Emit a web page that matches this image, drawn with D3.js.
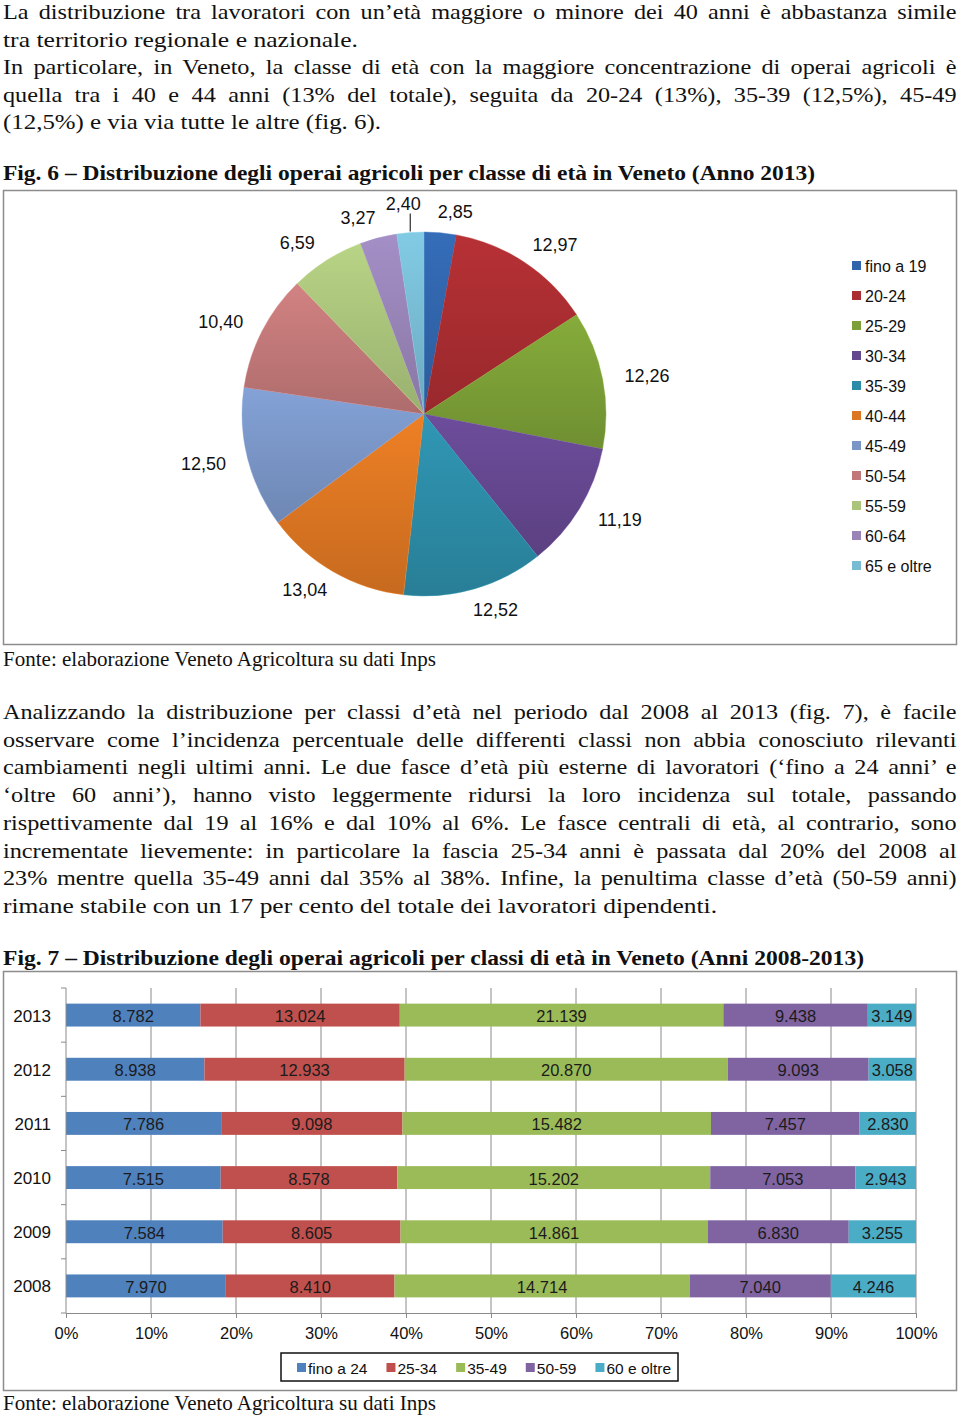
<!DOCTYPE html>
<html><head><meta charset="utf-8">
<script src="https://cdn.jsdelivr.net/npm/d3@7"></script>
<style>body{margin:0;background:#fff} svg{display:block}</style>
</head><body>
<svg id="c" width="960" height="1417"></svg>
<script>
// ---------- DATA ----------
const pieCategories = ["fino a 19","20-24","25-29","30-34","35-39","40-44","45-49","50-54","55-59","60-64","65 e oltre"];
const pieValues = [2.85,12.97,12.26,11.19,12.52,13.04,12.50,10.40,6.59,3.27,2.40];
const pieColors = ["#3165ab","#a92d31","#7c9f37","#654790","#2c8ca7","#dc7622","#7a96c7","#c27878","#aac47b","#9884b7","#78bcd4"];

const barYears = ["2013","2012","2011","2010","2009","2008"];
const barSeries = ["fino a 24","25-34","35-49","50-59","60 e oltre"];
const valFino24 = [8782,8938,7786,7515,7584,7970];
const val25_34 = [13024,12933,9098,8578,8605,8410];
const val35_49 = [21139,20870,15482,15202,14861,14714];
const val50_59 = [9438,9093,7457,7053,6830,7040];
const val60 = [3149,3058,2830,2943,3255,4246];
const barColors = ["#4f81bd","#c0504d","#9bbb59","#8064a2","#4bacc6"];
const xTickValues = [0,0.1,0.2,0.3,0.4,0.5,0.6,0.7,0.8,0.9,1];

const para1 = [
 ["La distribuzione tra lavoratori con un’età maggiore o minore dei 40 anni è abbastanza simile", 0],
 ["tra territorio regionale e nazionale.", 355],
 ["In particolare, in Veneto, la classe di età con la maggiore concentrazione di operai agricoli è", 0],
 ["quella tra i 40 e 44 anni (13% del totale), seguita da 20-24 (13%), 35-39 (12,5%), 45-49", 0],
 ["(12,5%) e via via tutte le altre (fig. 6).", 378]
];
const para2 = [
 ["Analizzando la distribuzione per classi d’età nel periodo dal 2008 al 2013 (fig. 7), è facile", 0],
 ["osservare come l’incidenza percentuale delle differenti classi non abbia conosciuto rilevanti", 0],
 ["cambiamenti negli ultimi anni. Le due fasce d’età più esterne di lavoratori (‘fino a 24 anni’ e", 0],
 ["‘oltre 60 anni’), hanno visto leggermente ridursi la loro incidenza sul totale, passando", 0],
 ["rispettivamente dal 19 al 16% e dal 10% al 6%. Le fasce centrali di età, al contrario, sono", 0],
 ["incrementate lievemente: in particolare la fascia 25-34 anni è passata dal 20% del 2008 al", 0],
 ["23% mentre quella 35-49 anni dal 35% al 38%. Infine, la penultima classe d’età (50-59 anni)", 0],
 ["rimane stabile con un 17 per cento del totale dei lavoratori dipendenti.", 714]
];
const title6 = "Fig. 6 – Distribuzione degli operai agricoli per classe di età in Veneto (Anno 2013)";
const title7 = "Fig. 7 – Distribuzione degli operai agricoli per classi di età in Veneto (Anni 2008-2013)";
const sourceText = "Fonte: elaborazione Veneto Agricoltura su dati Inps";

// ---------- SETUP ----------
const svg = d3.select("#c");
const serif = "'Liberation Serif','DejaVu Serif',serif";
const sans = "'Liberation Sans',Arial,sans-serif";
const FULL = 954;
const FS = 21;

function measure(txt, size, weight){
  const t = svg.append("text").attr("font-family", serif).attr("font-size", size)
    .attr("font-weight", weight||"normal").text(txt);
  const w = t.node().getComputedTextLength(); t.remove(); return w;
}
const fixedLines = para1.concat(para2).filter(d => d[1] > 0).concat([[sourceText, 433]]);
const k = d3.mean(fixedLines, d => d[1] / measure(d[0], FS));

function drawParagraph(lines, y0, lh){
  lines.forEach((d, i) => {
    const y = y0 + i * lh;
    const t = svg.append("text").attr("font-family", serif).attr("font-size", FS)
      .attr("fill", "#111").text(d[0]);
    if (d[1] > 0) {
      t.attr("x", 3).attr("y", y).attr("textLength", d[1]).attr("lengthAdjust", "spacingAndGlyphs");
    } else {
      const nat = t.node().getComputedTextLength();
      const spaces = d[0].split(" ").length - 1;
      const ws = (FULL / k - nat) / spaces;
      t.attr("transform", `translate(3,${y}) scale(${k},1)`).style("word-spacing", ws + "px");
    }
  });
}
function drawLine(txt, y, width, bold){
  svg.append("text").attr("x", 3).attr("y", y).attr("font-family", serif).attr("font-size", FS)
    .attr("font-weight", bold ? "bold" : "normal").attr("fill", "#111")
    .attr("textLength", width).attr("lengthAdjust", "spacingAndGlyphs").text(txt);
}

drawParagraph(para1, 19, 27.6);
drawLine(title6, 180, 812, true);
drawParagraph(para2, 719, 27.7);
drawLine(title7, 965, 861, true);
drawLine(sourceText, 666, 433, false);
drawLine(sourceText, 1410, 433, false);

// ---------- PIE ----------
svg.append("rect").attr("x", 3.5).attr("y", 190.5).attr("width", 953).attr("height", 454)
  .attr("fill", "none").attr("stroke", "#8c8c8c").attr("stroke-width", 1.5);

const cx = 424, cy = 414, R = 182;
const pieData = d3.pie().sort(null).value(d => d.v)(pieCategories.map((c, i) => ({c, v: pieValues[i], col: pieColors[i]})));
const arc = d3.arc().innerRadius(0).outerRadius(R);
const defs = svg.append("defs");
pieData.forEach((d, i) => {
  const g = defs.append("linearGradient").attr("id", "pg" + i)
    .attr("x1", 0).attr("y1", 0).attr("x2", 0).attr("y2", 1);
  const c = d3.color(d.data.col);
  g.append("stop").attr("offset", "0%").attr("stop-color", c.brighter(0.22));
  g.append("stop").attr("offset", "100%").attr("stop-color", c.darker(0.3));
});
const pg = svg.append("g").attr("transform", `translate(${cx},${cy})`);
pg.selectAll("path").data(pieData).join("path")
  .attr("d", arc).attr("fill", (d, i) => `url(#pg${i})`)
  .attr("stroke", (d, i) => d3.color(pieColors[i]).brighter(0.3)).attr("stroke-width", 0.4);

const fmtIt = d3.formatLocale({decimal: ",", thousands: ".", grouping: [3], currency: ["€", ""]});
const f2 = fmtIt.format(".2f");
const leaderSlices = ["65 e oltre"];
pieData.forEach(d => {
  const a = (d.startAngle + d.endAngle) / 2;
  const s = Math.sin(a), c = Math.cos(a);
  let lx = cx + 215 * s + 12 * Math.sign(s), ly = cy - 203 * c;
  if (leaderSlices.includes(d.data.c)) {
    const px = cx + (R + 1) * s, py = cy - (R + 1) * c;
    svg.append("line").attr("x1", px).attr("y1", py).attr("x2", px).attr("y2", py - 18)
      .attr("stroke", "#000").attr("stroke-width", 1);
    lx = px - 7; ly = py - 28;
  }
  svg.append("text").attr("x", lx).attr("y", ly).attr("dy", "0.36em").attr("text-anchor", "middle")
    .attr("font-family", sans).attr("font-size", 18).attr("fill", "#111").text(f2(d.data.v));
});

// pie legend
const pl = svg.append("g");
pieCategories.forEach((c, i) => {
  const y = 266 + i * 30;
  pl.append("rect").attr("x", 852).attr("y", y - 5).attr("width", 9).attr("height", 9).attr("fill", pieColors[i]);
  pl.append("text").attr("x", 865).attr("y", y).attr("dy", "0.36em").attr("font-family", sans)
    .attr("font-size", 16).attr("fill", "#111").text(c);
});

// ---------- BAR ----------
svg.append("rect").attr("x", 3.5).attr("y", 971.5).attr("width", 953).attr("height", 419)
  .attr("fill", "none").attr("stroke", "#8c8c8c").attr("stroke-width", 1.5);

const rows = barYears.map((y, i) => ({year: y, s0: valFino24[i], s1: val25_34[i], s2: val35_49[i], s3: val50_59[i], s4: val60[i]}));
const keys = ["s0","s1","s2","s3","s4"];
const stacked = d3.stack().keys(keys).offset(d3.stackOffsetExpand)(rows);
const x = d3.scaleLinear().domain([0, 1]).range([66, 916]);
const yB = d3.scaleBand().domain(barYears).range([988, 1313]).paddingInner(0.577).paddingOuter(0.2885);
const step = yB.step();

svg.append("g").selectAll("line").data(xTickValues.slice(1)).join("line")
  .attr("x1", d => x(d)).attr("x2", d => x(d)).attr("y1", 988).attr("y2", 1313)
  .attr("stroke", "#8a8a8a").attr("stroke-width", 1);

const bg = svg.append("g");
stacked.forEach((layer, si) => {
  bg.append("g").selectAll("rect").data(layer).join("rect")
    .attr("x", d => x(d[0])).attr("width", d => x(d[1]) - x(d[0]))
    .attr("y", d => yB(d.data.year)).attr("height", yB.bandwidth())
    .attr("fill", barColors[si]);
  bg.append("g").selectAll("text").data(layer).join("text")
    .attr("x", d => (x(d[0]) + x(d[1])) / 2).attr("y", d => yB(d.data.year) + yB.bandwidth() / 2 + 1)
    .attr("dy", "0.36em").attr("text-anchor", "middle").attr("font-family", sans)
    .attr("font-size", 16.5).attr("fill", "#1b1b1b")
    .text(d => fmtIt.format(",d")(d.data[keys[si]]));
});

const xAxis = d3.axisBottom(x).tickValues(xTickValues).tickFormat(d3.format(".0%")).tickSize(5).tickPadding(9);
const xg = svg.append("g").attr("transform", "translate(0,1313)").call(xAxis);
xg.select(".domain").attr("stroke", "#8a8a8a");
xg.selectAll(".tick line").attr("stroke", "#8a8a8a");
xg.selectAll(".tick text").attr("font-family", sans).attr("font-size", 16.5).attr("fill", "#111");

const yAxis = d3.axisLeft(yB).tickSize(0).tickPadding(15);
const yg = svg.append("g").attr("transform", "translate(66,1)").call(yAxis);
yg.select(".domain").remove();
yg.selectAll(".tick text").attr("font-family", sans).attr("font-size", 17).attr("fill", "#111");
svg.append("line").attr("x1", 66).attr("x2", 66).attr("y1", 988).attr("y2", 1313).attr("stroke", "#8a8a8a");
svg.append("g").selectAll("line").data(d3.range(barYears.length + 1)).join("line")
  .attr("x1", 61).attr("x2", 66).attr("y1", i => 988 + i * step).attr("y2", i => 988 + i * step)
  .attr("stroke", "#8a8a8a");

svg.append("rect").attr("x", 281).attr("y", 1353).attr("width", 397).attr("height", 28)
  .attr("fill", "#fff").attr("stroke", "#111").attr("stroke-width", 1.5);
let lxp = 297;
barSeries.forEach((s, i) => {
  svg.append("rect").attr("x", lxp).attr("y", 1363).attr("width", 9).attr("height", 9).attr("fill", barColors[i]);
  const t = svg.append("text").attr("x", lxp + 11).attr("y", 1368).attr("dy", "0.36em")
    .attr("font-family", sans).attr("font-size", 15.5).attr("fill", "#111").text(s);
  lxp += 11 + t.node().getComputedTextLength() + 19;
});
</script>
</body></html>
